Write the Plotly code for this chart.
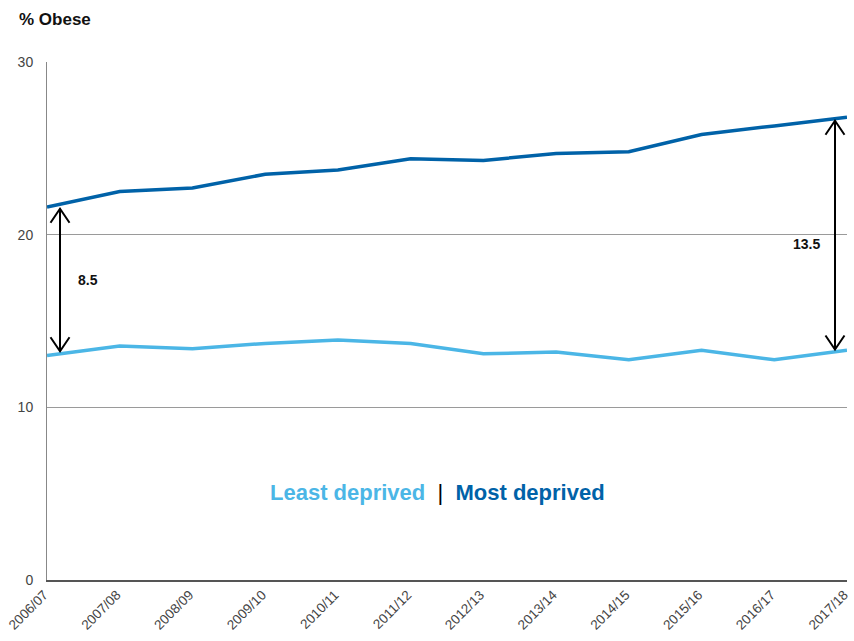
import plotly.graph_objects as go

years = ["2006/07", "2007/08", "2008/09", "2009/10", "2010/11", "2011/12",
         "2012/13", "2013/14", "2014/15", "2015/16", "2016/17", "2017/18"]
least_deprived = [13.0, 13.55, 13.4, 13.7, 13.9, 13.7, 13.1, 13.2, 12.75, 13.3, 12.75, 13.3]
most_deprived = [21.6, 22.5, 22.7, 23.5, 23.75, 24.4, 24.3, 24.7, 24.8, 25.8, 26.3, 26.8]
gap_labels = ["8.5", "13.5"]
y_ticks = [0, 10, 20, 30]

LIGHT = "#4bb6e6"
DARK = "#0062a8"
FONT = "Liberation Sans"

xs = list(range(len(years)))

fig = go.Figure()
fig.add_trace(go.Scatter(x=xs, y=least_deprived, mode="lines",
                         line=dict(color=LIGHT, width=3.5), name="Least deprived",
                         cliponaxis=False))
fig.add_trace(go.Scatter(x=xs, y=most_deprived, mode="lines",
                         line=dict(color=DARK, width=3.5), name="Most deprived",
                         cliponaxis=False))

# gap arrows (double-headed, open chevrons)
PX_X = 11 / 800.0   # data units per pixel (x)
PX_Y = 30 / 518.0   # data units per pixel (y)
arrow_specs = [
    (0 + 13 * PX_X, most_deprived[0] - 0.1, least_deprived[0] + 0.25, 88, 17.4, gap_labels[0]),
    (11 - 12 * PX_X, most_deprived[-1] - 0.2, least_deprived[-1] + 0.05, 807, 19.45, gap_labels[1]),
]
shapes = []
annotations = []
for ax_x, top, bot, lab_px, lab_y, lab in arrow_specs:
    lw = dict(color="black", width=2)
    shapes.append(dict(type="line", xref="x", yref="y", x0=ax_x, x1=ax_x, y0=top, y1=bot, line=lw))
    dx, dy = 9.5 * PX_X, 14 * PX_Y
    shapes.append(dict(type="path", xref="x", yref="y",
                       path=f"M {ax_x-dx} {top-dy} L {ax_x} {top} L {ax_x+dx} {top-dy}", line=lw))
    shapes.append(dict(type="path", xref="x", yref="y",
                       path=f"M {ax_x-dx} {bot+dy} L {ax_x} {bot} L {ax_x+dx} {bot+dy}", line=lw))
    annotations.append(dict(x=(lab_px - 47) * PX_X, y=lab_y, xref="x", yref="y", text=f"<b>{lab}</b>",
                            showarrow=False, font=dict(size=14, color="#111", family=FONT)))

annotations.append(dict(x=-30 / 800, y=1 + 42 / 518, xref="paper", yref="paper", xanchor="left",
                        yanchor="middle", text="<b>% Obese</b>", showarrow=False,
                        font=dict(size=17, color="#111", family=FONT)))
annotations.append(dict(x=(437 - 47) / 800, y=(580 - 492) / 518, xref="paper", yref="paper",
                        showarrow=False, xanchor="center", yanchor="middle",
                        text=(f"<span style='color:{LIGHT}'><b>Least deprived</b></span>"
                              f"<span style='color:#000'>  |  </span>"
                              f"<span style='color:{DARK}'><b>Most deprived</b></span>"),
                        font=dict(size=22, family=FONT)))

fig.update_layout(
    width=854, height=641,
    margin=dict(l=47, r=7, t=62, b=61),
    paper_bgcolor="white", plot_bgcolor="white",
    showlegend=False,
    font=dict(family=FONT, color="#333"),
    shapes=shapes,
    annotations=annotations,
    xaxis=dict(range=[-0.0001, 11.0001], tickvals=xs, ticktext=years, tickangle=-45,
               showgrid=False, zeroline=False, showline=True, linecolor="#555", linewidth=1.5,
               ticks="", automargin=False, ticklabeloverflow="allow", ticklabelshift=-3,
               tickfont=dict(size=13.5, color="#444", family=FONT)),
    yaxis=dict(range=[0, 30], tickvals=y_ticks, showgrid=True, gridcolor="#9a9a9a", gridwidth=1,
               zeroline=False, showline=True, linecolor="#888", linewidth=1, automargin=False,
               ticks="", ticklabelstandoff=10, tickfont=dict(size=14, color="#444", family=FONT)),
)

fig.write_html("out.html", config={"displayModeBar": False},
               post_script="document.body.style.margin='0';document.body.style.overflow='hidden';")
